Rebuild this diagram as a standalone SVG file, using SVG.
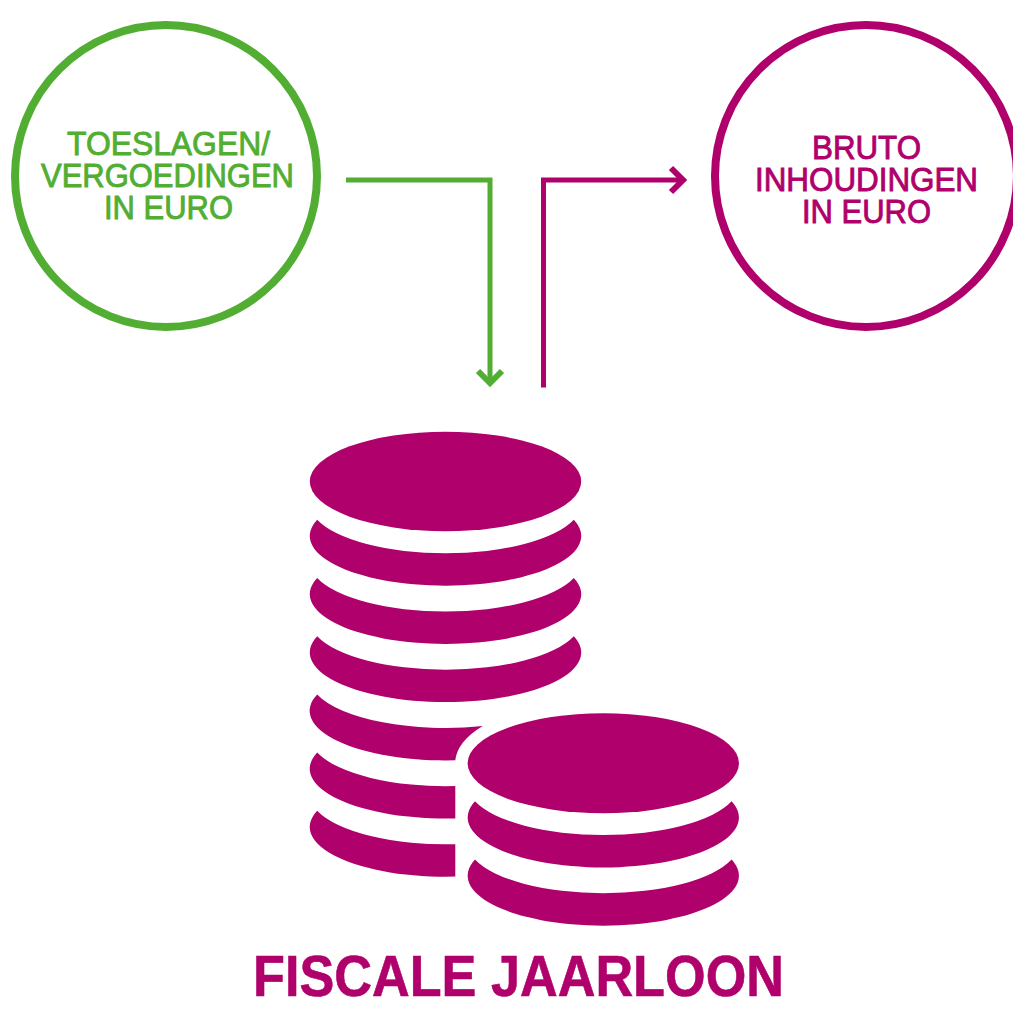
<svg xmlns="http://www.w3.org/2000/svg" width="1013" height="1010" viewBox="0 0 1013 1010">
<style>
.g{fill:none;stroke:#52ae32}
.m{fill:none;stroke:#af006b}
.c{stroke-width:8}
.l{stroke-width:5;stroke-linejoin:miter}
.h{stroke-width:6}
.coin{fill:#af006b}
text{font-family:"Liberation Sans",Arial,sans-serif;text-anchor:middle}
.t{font-size:33.5px;stroke-width:.9}
.tg{fill:#52ae32;stroke:#52ae32}
.tm{fill:#af006b;stroke:#af006b}
</style>
<rect width="1013" height="1010" fill="#fff"/>
<g id="connectors">
<path class="g l" d="M346 180H490V383"/>
<path class="g h" d="M478 371L490 383L502 371"/>
<path class="m l" d="M543.5 387.5V180H683"/>
<path class="m h" d="M671 168L683 180L671 192"/>
</g>
<g id="toeslagen">
<circle class="g c" cx="166" cy="176" r="151"/>
<text class="t tg" x="168.5" y="155" textLength="203" lengthAdjust="spacingAndGlyphs">TOESLAGEN/</text>
<text class="t tg" x="167.5" y="187" textLength="253" lengthAdjust="spacingAndGlyphs">VERGOEDINGEN</text>
<text class="t tg" x="168.5" y="219" textLength="129" lengthAdjust="spacingAndGlyphs">IN EURO</text>
</g>
<g id="inhoudingen">
<circle class="m c" cx="866" cy="176" r="151"/>
<text class="t tm" x="866.5" y="159" textLength="109" lengthAdjust="spacingAndGlyphs">BRUTO</text>
<text class="t tm" x="866.5" y="191" textLength="223" lengthAdjust="spacingAndGlyphs">INHOUDINGEN</text>
<text class="t tm" x="866.5" y="223" textLength="129" lengthAdjust="spacingAndGlyphs">IN EURO</text>
</g>
<g id="coins">
<ellipse class="coin" cx="445.5" cy="481.5" rx="135.7" ry="49.7"/>
<path class="coin" d="M317.2 519.8A135.7 49.7 0 0 0 573.8 519.8A135.7 49.7 0 0 1 445.5 585.7A135.7 49.7 0 0 1 317.2 519.8Z"/>
<path class="coin" d="M317.2 578A135.7 49.7 0 0 0 573.8 578A135.7 49.7 0 0 1 445.5 643.9A135.7 49.7 0 0 1 317.2 578Z"/>
<path class="coin" d="M317.2 636.2A135.7 49.7 0 0 0 573.8 636.2A135.7 49.7 0 0 1 445.5 702.1A135.7 49.7 0 0 1 317.2 636.2Z"/>
<path class="coin" d="M317.2 694.4A135.7 49.7 0 0 0 482.7 726A148 64 0 0 0 455.3 760.3A135.7 49.7 0 0 1 317.2 694.4Z"/>
<path class="coin" d="M317.2 752.6A135.7 49.7 0 0 0 455.3 786V818.4A135.7 49.7 0 0 1 317.2 752.6Z"/>
<path class="coin" d="M317.2 810.8A135.7 49.7 0 0 0 455.3 844.2V876.6A135.7 49.7 0 0 1 317.2 810.8Z"/>
<ellipse class="coin" cx="603.3" cy="763.3" rx="135.7" ry="50"/>
<path class="coin" d="M475 801.3A135.7 50 0 0 0 731.6 801.3A135.7 50 0 0 1 603.3 867.5A135.7 50 0 0 1 475 801.3Z"/>
<path class="coin" d="M475 859.5A135.7 50 0 0 0 731.6 859.5A135.7 50 0 0 1 603.3 925.7A135.7 50 0 0 1 475 859.5Z"/>
</g>
<g id="title">
<text x="518.5" y="996" font-size="57" font-weight="bold" fill="#af006b" stroke="#af006b" stroke-width=".6" textLength="531" lengthAdjust="spacingAndGlyphs">FISCALE JAARLOON</text>
</g>
</svg>
